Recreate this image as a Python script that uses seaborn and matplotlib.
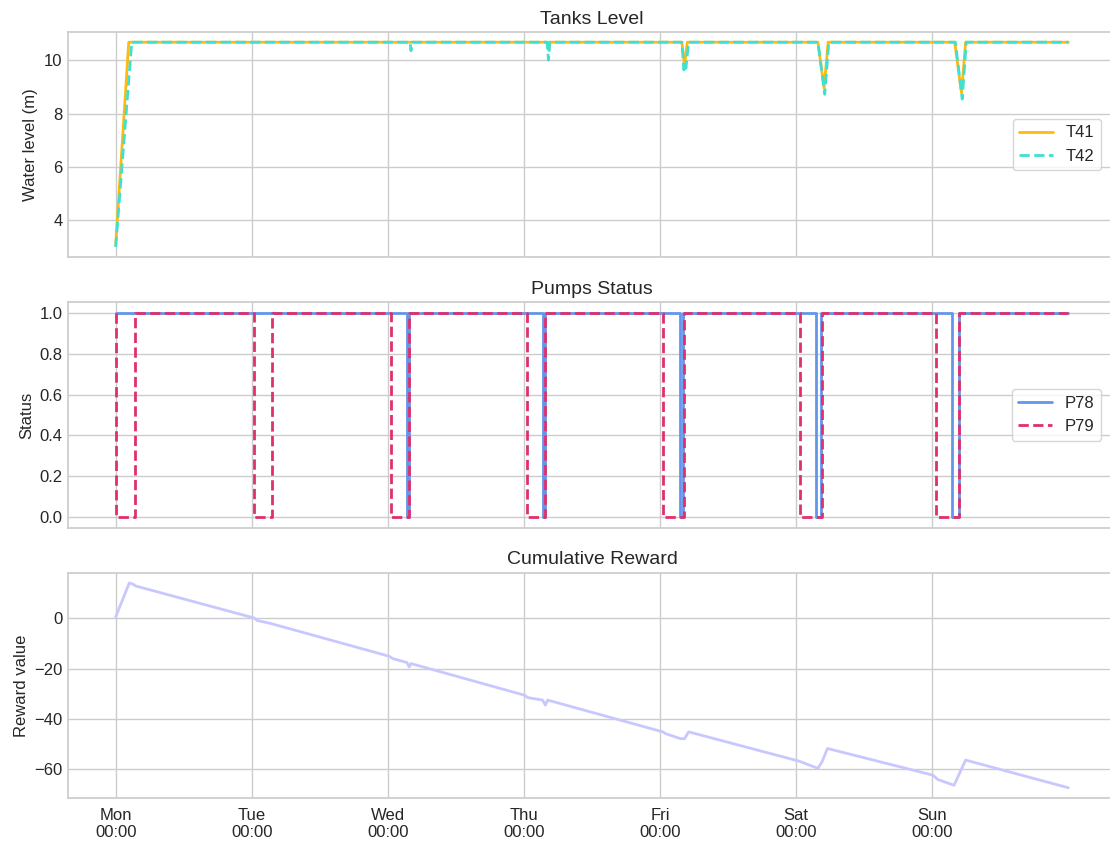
import matplotlib
matplotlib.use("Agg")
import matplotlib.pyplot as plt
import matplotlib.dates as mdates
import numpy as np
import pandas as pd
import seaborn as sns

# Start of the simulated week (a Monday)
start = pd.Timestamp("2024-01-01 00:00")
tick_days = [0, 1, 2, 3, 4, 5, 6]

# Tank levels (time in days since start, level in metres)
t41_days = [0.0, 0.096, 3.17, 3.18, 3.19, 4.16, 4.18, 4.20, 5.16, 5.205, 5.235,
            6.165, 6.215, 6.245, 7.0]
t41_level = [3.07, 10.67, 10.67, 10.40, 10.67, 10.67, 9.80, 10.67, 10.67, 8.95, 10.67,
             10.67, 8.77, 10.67, 10.67]

t42_days = [0.0, 0.118, 2.163, 2.17, 2.177, 3.17, 3.18, 3.19, 4.16, 4.175, 4.183, 4.19,
            4.21, 5.16, 5.21, 5.24, 6.17, 6.22, 6.25, 7.0]
t42_level = [3.00, 10.67, 10.67, 10.35, 10.67, 10.67, 10.00, 10.67, 10.67, 9.63, 9.85, 9.70,
             10.67, 10.67, 8.72, 10.67, 10.67, 8.54, 10.67, 10.67]

# Pump on/off switching events (time in days, status after the switch)
p78_days = [0.0, 2.137, 2.153, 3.142, 3.155, 4.147, 4.171, 5.147, 5.184, 6.147, 6.196, 7.0]
p78_status = [1, 0, 1, 0, 1, 0, 1, 0, 1, 0, 1, 1]

p79_days = [0.0, 0.005, 0.142, 1.017, 1.145, 2.02, 2.153, 3.022, 3.155, 4.024, 4.179,
            5.03, 5.19, 6.03, 6.2, 7.0]
p79_status = [1, 0, 1, 0, 1, 0, 1, 0, 1, 0, 1, 0, 1, 0, 1, 1]

# Cumulative reward (time in days, reward value)
reward_days = [0.0, 0.1, 0.128, 0.147, 1.017, 1.04, 1.14, 2.01, 2.035, 2.14, 2.157, 2.17,
               3.007, 3.027, 3.137, 3.157, 3.174, 4.02, 4.04, 4.15, 4.18, 4.21,
               5.02, 5.16, 5.19, 5.23, 6.005, 6.04, 6.16, 6.2, 6.245, 7.0]
reward_value = [0.5, 14.0, 13.5, 12.8, 0.1, -0.9, -2.1, -15.1, -16.0, -17.6, -19.3, -18.0,
                -30.6, -31.5, -32.5, -34.5, -32.5, -45.1, -45.8, -47.8, -47.8, -45.1,
                -56.7, -59.6, -57.0, -51.7, -62.3, -64.0, -66.3, -61.6, -56.3, -67.3]


def frame(days, values):
    return pd.DataFrame({
        "time": start + pd.to_timedelta(np.asarray(days), unit="D"),
        "value": values,
    })


sns.set_theme(style="whitegrid")
plt.rcParams["font.family"] = ["Liberation Sans", "DejaVu Sans"]
plt.rcParams["axes.titlesize"] = 14
plt.rcParams["axes.labelsize"] = 12
plt.rcParams["xtick.labelsize"] = 12
plt.rcParams["ytick.labelsize"] = 12
plt.rcParams["legend.fontsize"] = 12
plt.rcParams["xtick.major.size"] = 0
plt.rcParams["ytick.major.size"] = 0
plt.rcParams["xtick.major.pad"] = 7
plt.rcParams["ytick.major.pad"] = 4

fig, axes = plt.subplots(3, 1, figsize=(11.1, 8.41), dpi=100, sharex=True)
fig.subplots_adjust(left=0.0613, right=1.0054, top=0.962, bottom=0.0511, hspace=0.2)

# Tanks
ax = axes[0]
sns.lineplot(data=frame(t41_days, t41_level), x="time", y="value", ax=ax,
             color="#ffb90f", linewidth=2, label="T41")
sns.lineplot(data=frame(t42_days, t42_level), x="time", y="value", ax=ax,
             color="#40e0d0", linewidth=2, linestyle="--", label="T42")
ax.set_title("Tanks Level")
ax.set_ylabel("Water level (m)")
ax.set_xlabel("")
ax.legend(loc="center right", bbox_to_anchor=(0.994, 0.5))

# Pumps
ax = axes[1]
sns.lineplot(data=frame(p78_days, p78_status), x="time", y="value", ax=ax,
             color="#6495ed", linewidth=2, drawstyle="steps-post", label="P78")
sns.lineplot(data=frame(p79_days, p79_status), x="time", y="value", ax=ax,
             color="#e0306a", linewidth=2, linestyle="--", drawstyle="steps-post",
             label="P79")
ax.set_title("Pumps Status")
ax.set_ylabel("Status")
ax.set_xlabel("")
ax.legend(loc="center right", bbox_to_anchor=(0.994, 0.5))

# Reward
ax = axes[2]
sns.lineplot(data=frame(reward_days, reward_value), x="time", y="value", ax=ax,
             color="#c8c8ff", linewidth=2)
ax.set_title("Cumulative Reward")
ax.set_ylabel("Reward value")
ax.set_xlabel("")

ax.set_xticks(frame(tick_days, tick_days)["time"])
ax.xaxis.set_major_formatter(mdates.DateFormatter("%a\n%H:%M"))

fig.savefig("out.png", dpi=100)
